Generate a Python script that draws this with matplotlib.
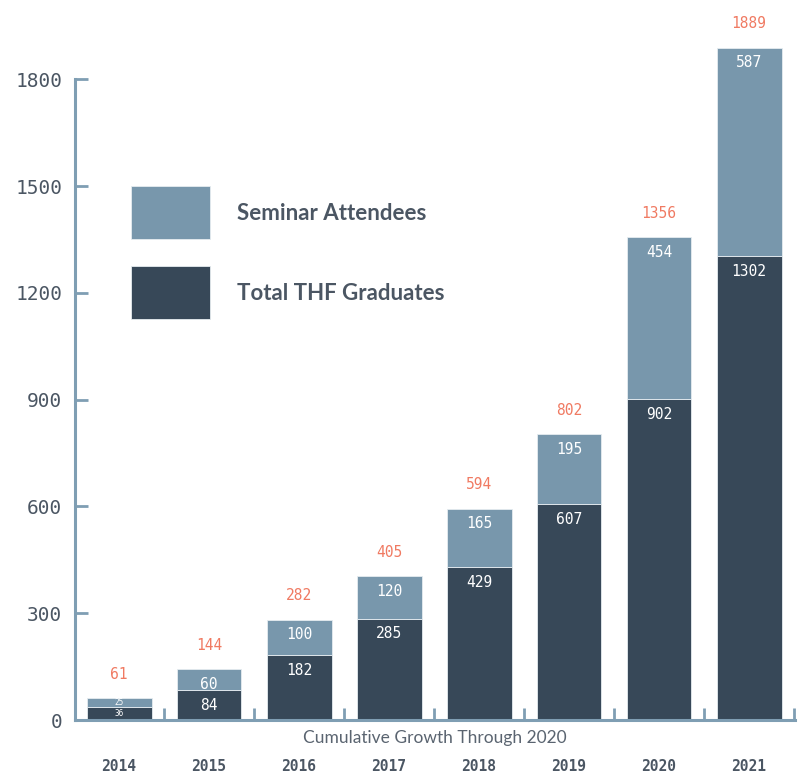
import numpy as np
import matplotlib.pyplot as plt
import matplotlib as mpl
from matplotlib.patches import Rectangle

LIGHT = '#7897ac'
DARK = '#374858'
CORAL = '#f07a62'
AXIS = '#7f9eb3'
TXT = '#4b5663'

years = ['2014', '2015', '2016', '2017', '2018', '2019', '2020', '2021']
graduates = [36, 84, 182, 285, 429, 607, 902, 1302]
attendees = [25, 60, 100, 120, 165, 195, 454, 587]
totals = [61, 144, 282, 405, 594, 802, 1356, 1889]
yticks = [0, 300, 600, 900, 1200, 1500, 1800]
series_names = ['Seminar Attendees', 'Total THF Graduates']

W, H = 801, 775
fig = plt.figure(figsize=(W/100, H/100), dpi=100)
ax = fig.add_axes([75/W, 55/H, 720/W, 712/H])

x = np.arange(len(years))
w = 0.72
ax.bar(x, graduates, w, color=DARK, edgecolor='#e6ecf0', linewidth=0.6)
ax.bar(x, attendees, w, bottom=graduates, color=LIGHT, edgecolor='#e6ecf0', linewidth=0.6)

ax.set_xlim(-0.49, 7.51)
ax.set_ylim(0, 2000)

mono = 'DejaVu Sans Mono'
for i, (g, a, t) in enumerate(zip(graduates, attendees, totals)):
    if i == 0:
        ax.text(i, g/2, str(g), ha='center', va='center', color='white', fontsize=5.5, family=mono)
        ax.text(i, g + a/2, str(a), ha='center', va='center', color='white', fontsize=5.5, family=mono)
    else:
        ax.annotate(str(g), (i, g), xytext=(0, -11), textcoords='offset points',
                    ha='center', va='center', color='white', fontsize=10.5, family=mono)
        ax.annotate(str(a), (i, g + a), xytext=(0, -11), textcoords='offset points',
                    ha='center', va='center', color='white', fontsize=10.5, family=mono)
    ax.annotate(str(t), (i, g + a), xytext=(0, 17), textcoords='offset points',
                ha='center', va='center', color=CORAL, fontsize=10.5, family=mono,
                annotation_clip=False)

for s in ['top', 'right']:
    ax.spines[s].set_visible(False)
for s in ['left', 'bottom']:
    ax.spines[s].set_color(AXIS)
    ax.spines[s].set_linewidth(2.2)
ax.spines['left'].set_bounds(0, 1800)

ax.set_yticks(yticks)
ax.set_yticklabels([str(v) for v in yticks], family=mono, fontsize=14, color=TXT)
ax.tick_params(axis='y', direction='in', length=9.5, width=2, color=AXIS, pad=9)

ax.set_xticks(x)
ax.set_xticklabels(years, family=mono, fontsize=10.5, fontweight='bold', color=TXT)
ax.set_xticks(np.arange(0.5, 8, 1), minor=True)
ax.tick_params(axis='x', which='major', length=0, pad=28)
ax.tick_params(axis='x', which='minor', direction='in', length=8.5, width=2, color=AXIS)

ax.text(0.5, -0.025, 'Cumulative Growth Through 2020', transform=ax.transAxes,
        ha='center', va='center', fontsize=12.5, color='#5a6470', family='Lato')

# legend drawn by hand: big swatches
for k, (name, col) in enumerate(zip(series_names, [LIGHT, DARK])):
    top = 186 + k*80
    fig.add_artist(Rectangle((131/W, 1 - (top + 53)/H), 79/W, 53/H, transform=fig.transFigure,
                             facecolor=col, edgecolor='#e6ecf0', linewidth=0.6))
    fig.text(237/W, 1 - (top + 28)/H, name, ha='left', va='center', fontsize=16,
             family='Lato', fontweight='bold', color=TXT)

fig.savefig('out.png', dpi=100)
